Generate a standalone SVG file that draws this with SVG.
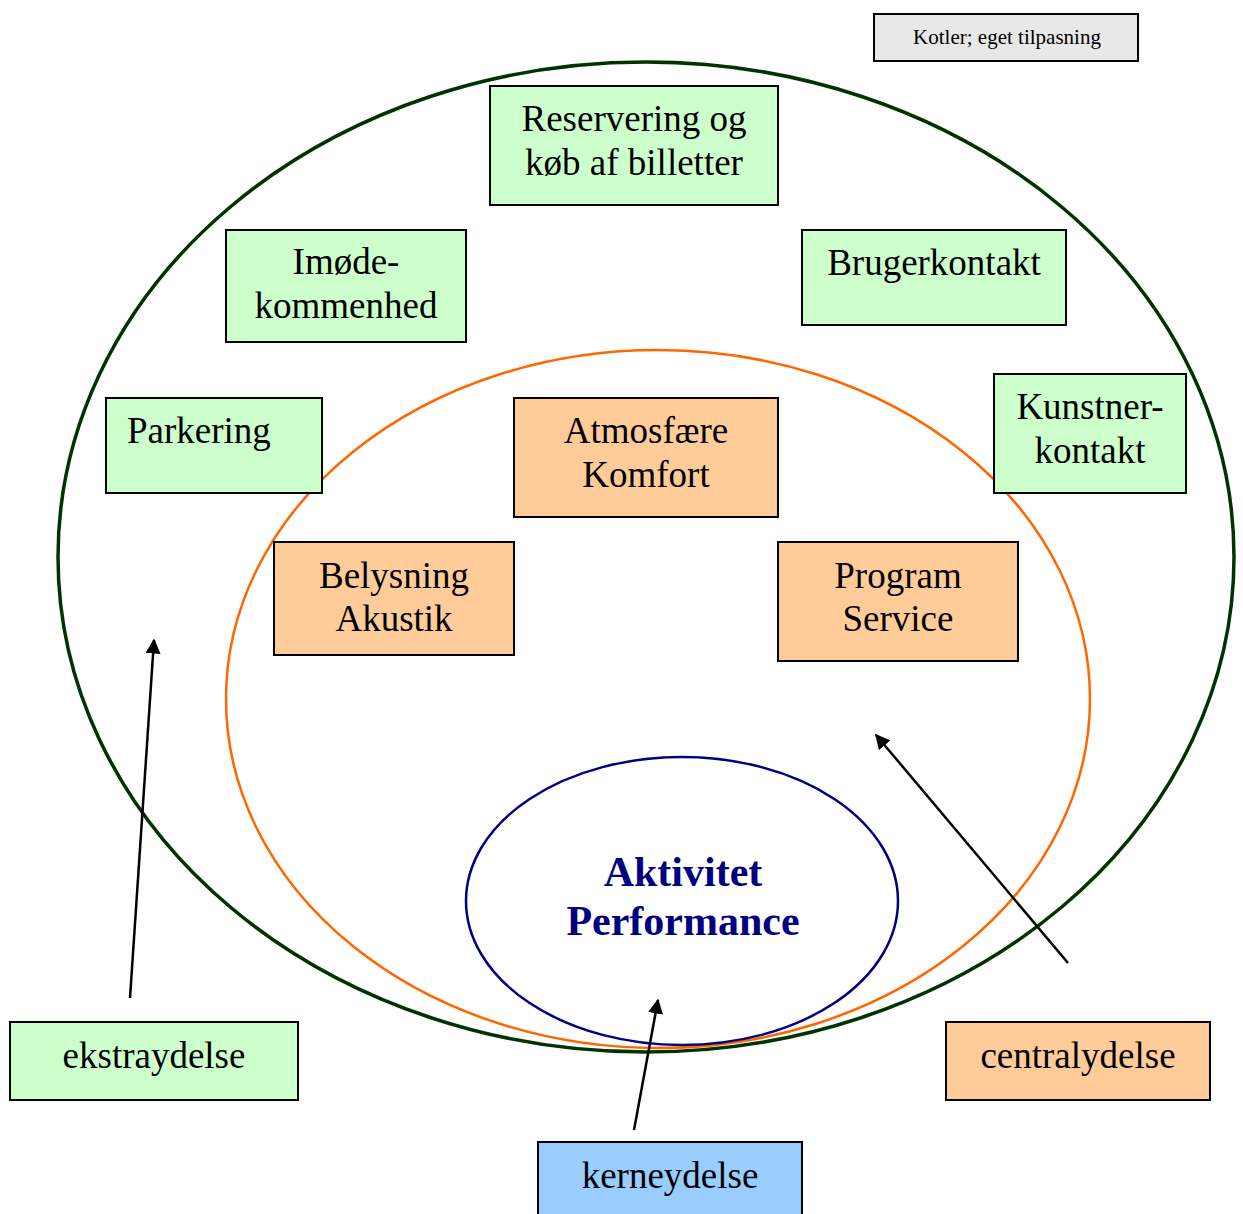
<svg xmlns="http://www.w3.org/2000/svg" width="1243" height="1214" viewBox="0 0 1243 1214">
<style>
.box{stroke:#000;stroke-width:2}
.g{fill:#ccffcc}
.o{fill:#ffcc99}
.b{fill:#99ccff}
.t{font-family:"Liberation Serif","Times New Roman",serif;font-size:37px;fill:#000;text-anchor:middle}
.a{stroke:#000;stroke-width:2.5;fill:none}
</style>
<defs>
<marker id="ah" viewBox="0 0 10 10" refX="9" refY="5" markerWidth="6" markerHeight="6" markerUnits="strokeWidth" orient="auto">
<path d="M0,0 L10,5 L0,10 Z" fill="#000"/>
</marker>
</defs>
<rect width="1243" height="1214" fill="#fff"/>
<g id="rings">
<ellipse cx="646" cy="557" rx="588" ry="495" fill="none" stroke="#003300" stroke-width="3.5"/>
<ellipse cx="658" cy="699" rx="432" ry="349" fill="none" stroke="#ff6600" stroke-width="2.5"/>
<ellipse cx="682" cy="901" rx="216" ry="144" fill="none" stroke="#000080" stroke-width="2.5"/>
</g>
<g id="source">
<rect class="box" x="874" y="14" width="264" height="47" fill="#e8e8e8"/>
<text x="1007" y="44" font-family="Liberation Serif, serif" font-size="21" text-anchor="middle">Kotler; eget tilpasning</text>
</g>
<g id="reservering">
<rect class="box g" x="490" y="86" width="288" height="119"/>
<text class="t" x="634" y="131">Reservering og</text>
<text class="t" x="634" y="175">køb af billetter</text>
</g>
<g id="imode">
<rect class="box g" x="226" y="230" width="240" height="112"/>
<text class="t" x="346" y="274">Imøde-</text>
<text class="t" x="346" y="318">kommenhed</text>
</g>
<g id="brugerkontakt">
<rect class="box g" x="802" y="230" width="264" height="95"/>
<text class="t" x="934" y="275">Brugerkontakt</text>
</g>
<g id="parkering">
<rect class="box g" x="106" y="398" width="216" height="95"/>
<text class="t" x="127" y="443" style="text-anchor:start">Parkering</text>
</g>
<g id="kunstner">
<rect class="box g" x="994" y="374" width="192" height="119"/>
<text class="t" x="1090" y="419">Kunstner-</text>
<text class="t" x="1090" y="463">kontakt</text>
</g>
<g id="atmosfaere">
<rect class="box o" x="514" y="398" width="264" height="119"/>
<text class="t" x="646" y="443">Atmosfære</text>
<text class="t" x="646" y="487">Komfort</text>
</g>
<g id="belysning">
<rect class="box o" x="274" y="542" width="240" height="113"/>
<text class="t" x="394" y="588">Belysning</text>
<text class="t" x="394" y="631">Akustik</text>
</g>
<g id="program">
<rect class="box o" x="778" y="542" width="240" height="119"/>
<text class="t" x="898" y="588">Program</text>
<text class="t" x="898" y="631">Service</text>
</g>
<g id="aktivitet">
<text x="683" y="886" font-family="Liberation Serif, serif" font-size="42" font-weight="bold" fill="#000080" text-anchor="middle">Aktivitet</text>
<text x="683" y="935" font-family="Liberation Serif, serif" font-size="42" font-weight="bold" fill="#000080" text-anchor="middle">Performance</text>
</g>
<g id="ekstraydelse">
<rect class="box g" x="10" y="1022" width="288" height="78"/>
<text class="t" x="154" y="1068">ekstraydelse</text>
</g>
<g id="centralydelse">
<rect class="box o" x="946" y="1022" width="264" height="78"/>
<text class="t" x="1078" y="1068">centralydelse</text>
</g>
<g id="kerneydelse">
<rect class="box b" x="538" y="1142" width="264" height="80"/>
<text class="t" x="670" y="1188">kerneydelse</text>
</g>
<g id="connectors">
<line class="a" x1="130" y1="998" x2="154" y2="640" marker-end="url(#ah)"/>
<line class="a" x1="1068" y1="963" x2="876" y2="735" marker-end="url(#ah)"/>
<line class="a" x1="634" y1="1130" x2="658" y2="1000" marker-end="url(#ah)"/>
</g>
</svg>
